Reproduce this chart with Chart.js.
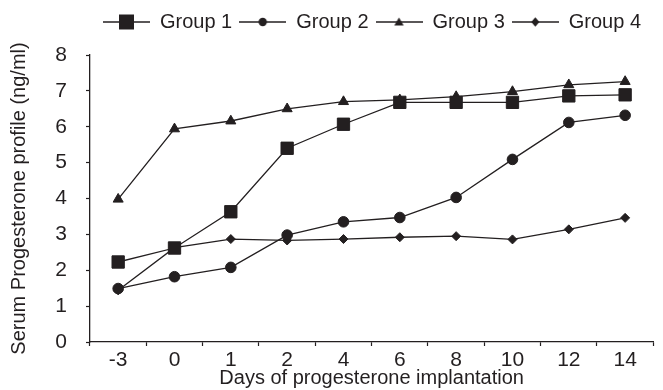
<!DOCTYPE html>
<html>
<head>
<meta charset="utf-8">
<script src="https://cdn.jsdelivr.net/npm/chart.js@4.4.0/dist/chart.umd.min.js"></script>
<style>
  html, body { margin: 0; padding: 0; background: #fff; }
</style>
</head>
<body>
<canvas id="chart" width="663" height="390"></canvas>
<script>
// values
const days = ['-3', '0', '1', '2', '4', '6', '8', '10', '12', '14'];
const group1 = [2.23, 2.62, 3.63, 5.40, 6.07, 6.68, 6.68, 6.68, 6.86, 6.89];
const group2 = [1.49, 1.82, 2.08, 2.98, 3.35, 3.47, 4.03, 5.09, 6.12, 6.32];
const group3 = [3.98, 5.94, 6.16, 6.50, 6.70, 6.75, 6.84, 6.98, 7.17, 7.26];
const group4 = [1.44, 2.63, 2.87, 2.83, 2.87, 2.92, 2.95, 2.86, 3.14, 3.46];
const groupNames = ['Group 1', 'Group 2', 'Group 3', 'Group 4'];
const yMin = 0, yMax = 8, yStep = 1;

const ink = '#231f20';
const font = '"Liberation Sans", Arial, sans-serif';

// little "line + marker" pictures for the legend
function legendIcon(shape) {
    const c = document.createElement('canvas');
    c.width = 47;
    c.height = 20;
    const g = c.getContext('2d');
    g.strokeStyle = ink;
    g.fillStyle = ink;
    g.lineWidth = 1.3;
    g.beginPath();
    g.moveTo(0, 10);
    g.lineTo(47, 10);
    g.stroke();
    g.beginPath();
    if (shape === 'square') {
        g.rect(16, 2.5, 15, 15);
    } else if (shape === 'circle') {
        g.arc(23.5, 10, 4.2, 0, Math.PI * 2);
    } else if (shape === 'triangle') {
        g.moveTo(23.5, 5.5);
        g.lineTo(28.2, 13.5);
        g.lineTo(18.8, 13.5);
        g.closePath();
    } else {
        g.moveTo(23.5, 5.2);
        g.lineTo(27.5, 10);
        g.lineTo(23.5, 14.8);
        g.lineTo(19.5, 10);
        g.closePath();
    }
    g.fill();
    return c;
}
const icons = [legendIcon('square'), legendIcon('circle'), legendIcon('triangle'), legendIcon('diamond')];

function series(label, data, style, radius) {
    return {
        label: label,
        data: data,
        borderColor: ink,
        backgroundColor: ink,
        borderWidth: 1.3,
        pointStyle: style,
        pointRadius: radius,
        pointHoverRadius: radius,
        pointBorderWidth: 1,
        pointBackgroundColor: ink,
        pointBorderColor: ink,
        tension: 0
    };
}

// extra room under the legend and push it to the right like the original
const legendSpacing = {
    id: 'legendSpacing',
    beforeInit(chart) {
        const fit = chart.legend.fit;
        chart.legend.fit = function () {
            fit.call(this);
            this.height += 13;
        };
    },
    afterLayout(chart) {
        chart.legend.left += 43;
        chart.legend.right += 43;
    }
};

new Chart(document.getElementById('chart'), {
    type: 'line',
    data: {
        labels: days,
        datasets: [
            series(groupNames[0], group1, 'rect', 8.7),
            series(groupNames[1], group2, 'circle', 5.3),
            series(groupNames[2], group3, 'triangle', 5.8),
            series(groupNames[3], group4, 'rectRot', 4.5)
        ]
    },
    options: {
        responsive: false,
        animation: false,
        layout: { padding: { top: 5, right: 5, left: 0, bottom: 0 } },
        plugins: {
            tooltip: { enabled: false },
            legend: {
                position: 'top',
                align: 'center',
                labels: {
                    usePointStyle: true,
                    pointStyleWidth: 47,
                    boxHeight: 20,
                    padding: 7,
                    color: ink,
                    font: { family: font, size: 20 },
                    generateLabels(chart) {
                        const items = Chart.defaults.plugins.legend.labels.generateLabels(chart);
                        items.forEach((item, i) => { item.pointStyle = icons[i]; });
                        return items;
                    }
                }
            }
        },
        scales: {
            x: {
                type: 'category',
                offset: true,
                afterFit(scale) { scale.height = 48; },
                grid: { display: true, drawOnChartArea: false, offset: true, tickLength: 4, color: ink, tickWidth: 1.2 },
                border: { display: true, color: ink, width: 1.3 },
                ticks: { color: ink, padding: 2, font: { family: font, size: 21 }, maxRotation: 0, autoSkip: false },
                title: {
                    display: true,
                    text: 'Days of progesterone implantation',
                    color: ink,
                    font: { family: font, size: 20 },
                    padding: { top: 0, bottom: 0 }
                }
            },
            y: {
                min: yMin,
                max: yMax,
                afterFit(scale) { scale.width = 90; },
                grid: { display: true, drawOnChartArea: false, tickLength: 4, color: ink, tickWidth: 1.2 },
                border: { display: true, color: ink, width: 1.3 },
                ticks: { stepSize: yStep, color: ink, padding: 19, font: { family: font, size: 21 } },
                title: {
                    display: true,
                    text: 'Serum Progesterone profile (ng/ml)',
                    color: ink,
                    font: { family: font, size: 20 },
                    padding: { top: 7, bottom: 0 }
                }
            }
        }
    },
    plugins: [legendSpacing]
});
</script>
</body>
</html>
